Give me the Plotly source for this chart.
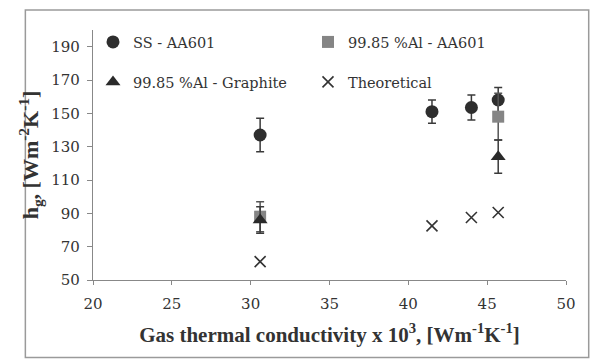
import plotly.graph_objects as go

# Data
ss_x = [30.6, 41.5, 44.0, 45.7]
ss_y = [137, 151, 153.5, 158]
ss_err = [10, 7, 7.5, 7.5]

al_aa_x = [30.6, 45.7]
al_aa_y = [88, 148]
al_aa_err = [9, 14]

al_gr_x = [30.6, 45.7]
al_gr_y = [86, 124]
al_gr_err = [8, 10]

th_x = [30.6, 41.5, 44.0, 45.7]
th_y = [61, 82.5, 87.5, 90.5]

x_ticks = [20, 25, 30, 35, 40, 45, 50]
y_ticks = [50, 70, 90, 110, 130, 150, 170, 190]

TITLE_FONT = "Liberation Serif"
TEXT_FONT = "DejaVu Serif"

fig = go.Figure()
fig.add_trace(go.Scatter(
    x=ss_x, y=ss_y, mode="markers", name="SS - AA601", legend="legend",
    marker=dict(symbol="circle", size=13, color="#2e2e2e"),
    error_y=dict(type="data", array=ss_err, color="#3a3a3a", thickness=1.5, width=4),
))
fig.add_trace(go.Scatter(
    x=al_aa_x, y=al_aa_y, mode="markers", name="99.85 %Al - AA601", legend="legend",
    marker=dict(symbol="square", size=12, color="#858585"),
    error_y=dict(type="data", array=al_aa_err, color="#555555", thickness=1.5, width=4),
))
fig.add_trace(go.Scatter(
    x=al_gr_x, y=al_gr_y, mode="markers", name="99.85 %Al - Graphite", legend="legend2",
    marker=dict(symbol="triangle-up", size=13, color="#2a2a2a"),
    error_y=dict(type="data", array=al_gr_err, color="#3a3a3a", thickness=1.5, width=4),
))
fig.add_trace(go.Scatter(
    x=th_x, y=th_y, mode="markers", name="Theoretical", legend="legend2",
    marker=dict(symbol="x-thin", size=11, color="#333333",
                line=dict(width=1.6, color="#333333")),
))

legend_common = dict(
    orientation="h", xanchor="left", yanchor="middle",
    font=dict(family=TEXT_FONT, size=14.5, color="#333333"),
    bgcolor="rgba(0,0,0,0)", entrywidth=170, entrywidthmode="pixels",
    itemwidth=30,
)
fig.update_layout(
    width=596, height=361,
    margin=dict(l=93, r=30, t=30, b=81),
    paper_bgcolor="white", plot_bgcolor="white",
    font=dict(family=TEXT_FONT, color="#333333"),
    showlegend=True,
    legend=dict(x=0.0, y=0.952, **legend_common),
    legend2=dict(x=0.0, y=0.792, **legend_common),
    xaxis=dict(
        range=[20, 50], tickvals=x_ticks, ticks="outside", ticklen=4,
        tickcolor="#888888", showline=True, linecolor="#888888", linewidth=1.2,
        showgrid=False, zeroline=False, ticklabelstandoff=6,
        tickfont=dict(family=TEXT_FONT, size=15, color="#333333"),
        title=dict(text="<b>Gas thermal conductivity x 10<sup>3</sup>, [Wm<sup>-1</sup>K<sup>-1</sup>]</b>",
                   font=dict(family=TITLE_FONT, size=21, color="#333333"), standoff=15),
    ),
    yaxis=dict(
        range=[50, 200], tickvals=y_ticks, ticks="outside", ticklen=5,
        tickcolor="#888888", showline=True, linecolor="#888888", linewidth=1.2,
        showgrid=False, zeroline=False, ticklabelstandoff=4,
        tickfont=dict(family=TEXT_FONT, size=15, color="#333333"),
        title=dict(text="<b>h<sub>g</sub>, [Wm<sup>-2</sup>K<sup>-1</sup>]</b>",
                   font=dict(family=TITLE_FONT, size=22, color="#333333"), standoff=6),
    ),
    shapes=[dict(type="rect", xref="paper", yref="paper",
                 x0=-0.143, x1=1.048, y0=-0.31, y1=1.08,
                 line=dict(color="#9a9a9a", width=1.5))],
)

fig.write_html("out.html")
